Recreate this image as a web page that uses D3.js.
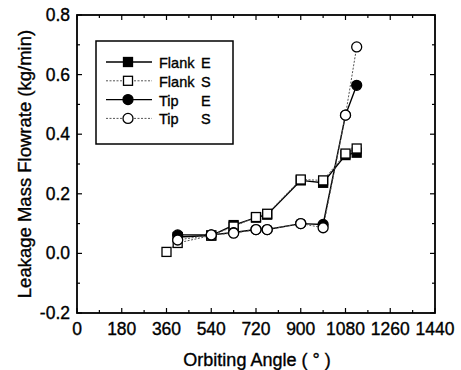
<!DOCTYPE html>
<html>
<head>
<meta charset="utf-8">
<script src="https://cdn.jsdelivr.net/npm/d3@7"></script>
<style>
  body { margin: 0; background: #fff; }
  text { font-family: "Liberation Sans", Arial, sans-serif; fill: #000; stroke: #000; stroke-width: 0.35px; }
</style>
</head>
<body>
<div id="chart"></div>
<script>
// data
let angles = [360, 405, 540, 630, 720, 765, 900, 990, 1080, 1125];
let flankE = [null, 0.055, 0.060, 0.095, 0.120, 0.130, 0.245, 0.237, 0.330, 0.338];
let flankS = [0.005, 0.035, 0.060, 0.090, 0.122, 0.133, 0.248, 0.245, 0.335, 0.352];
let tipE = [null, 0.062, 0.062, 0.070, 0.080, 0.080, 0.100, 0.097, 0.464, 0.564];
let tipS = [null, 0.045, 0.062, 0.068, 0.080, 0.080, 0.100, 0.086, 0.464, 0.693];
let xTicks = [0, 180, 360, 540, 720, 900, 1080, 1260, 1440];
let yTicks = [-0.2, 0.0, 0.2, 0.4, 0.6, 0.8];

let width = 461, height = 370;
let margin = {left: 77, right: 26, top: 15, bottom: 57};

let series = [
    {name: 'Flank', tag: 'E', values: flankE, shape: 'square', filled: true, dash: null},
    {name: 'Flank', tag: 'S', values: flankS, shape: 'square', filled: false, dash: '2,1.5'},
    {name: 'Tip', tag: 'E', values: tipE, shape: 'circle', filled: true, dash: null},
    {name: 'Tip', tag: 'S', values: tipS, shape: 'circle', filled: false, dash: '2,1.5'}
];

let svg = d3.select('#chart').append('svg')
    .attr('width', width)
    .attr('height', height);

let x = d3.scaleLinear().domain([0, 1440]).range([margin.left, width - margin.right]);
let y = d3.scaleLinear().domain([-0.2, 0.8]).range([height - margin.bottom, margin.top]);

let x0 = x.range()[0], x1 = x.range()[1], y0 = y.range()[0], y1 = y.range()[1];

// ticks (all pointing inward)
let g = svg.append('g').attr('stroke', '#000').attr('stroke-width', 1.2);
d3.range(0, 1441, 90).forEach((v) => {
    let len = v % 180 === 0 ? 5 : 3;
    g.append('line').attr('x1', x(v)).attr('x2', x(v)).attr('y1', y0).attr('y2', y0 - len);
    g.append('line').attr('x1', x(v)).attr('x2', x(v)).attr('y1', y1).attr('y2', y1 + len);
});
d3.range(-0.2, 0.81, 0.1).forEach((v) => {
    let len = Math.round(v * 10) % 2 === 0 ? 5 : 3;
    g.append('line').attr('y1', y(v)).attr('y2', y(v)).attr('x1', x0).attr('x2', x0 + len);
    g.append('line').attr('y1', y(v)).attr('y2', y(v)).attr('x1', x1).attr('x2', x1 - len);
});

// frame
svg.append('rect')
    .attr('x', x0).attr('y', y1)
    .attr('width', x1 - x0).attr('height', y0 - y1)
    .attr('fill', 'none').attr('stroke', '#000').attr('stroke-width', 1.8);

// tick labels
svg.append('g').selectAll('text').data(xTicks).enter().append('text')
    .attr('x', (d) => x(d))
    .attr('y', y0 + 22)
    .attr('text-anchor', 'middle')
    .style('font-size', '17.5px')
    .text((d) => d);

svg.append('g').selectAll('text').data(yTicks).enter().append('text')
    .attr('x', x0 - 7)
    .attr('y', (d) => y(d) + 6)
    .attr('text-anchor', 'end')
    .style('font-size', '17.5px')
    .text((d) => d.toFixed(1));

// axis titles
svg.append('text')
    .attr('x', 257).attr('y', 366)
    .attr('text-anchor', 'middle')
    .style('font-size', '18px')
    .text('Orbiting Angle ( ° )');

svg.append('text')
    .attr('transform', 'translate(31,' + (y0 + y1) / 2 + ') rotate(-90)')
    .attr('text-anchor', 'middle')
    .style('font-size', '18.5px')
    .text('Leakage Mass Flowrate (kg/min)');

// lines and markers
let line = d3.line()
    .x((d) => x(d[0]))
    .y((d) => y(d[1]));

function marker(sel, s, cx, cy) {
    if (s.shape === 'square') {
        sel.append('rect')
            .attr('x', cx - 4.5).attr('y', cy - 4.5)
            .attr('width', 9).attr('height', 9)
            .attr('fill', s.filled ? '#000' : '#fff')
            .attr('stroke', '#000').attr('stroke-width', 1.3);
    } else {
        sel.append('circle')
            .attr('cx', cx).attr('cy', cy).attr('r', 5)
            .attr('fill', s.filled ? '#000' : '#fff')
            .attr('stroke', '#000').attr('stroke-width', 1.3);
    }
}

series.forEach((s) => {
    let pts = angles.map((a, i) => [a, s.values[i]]).filter((p) => p[1] != null);
    svg.append('path')
        .attr('d', line(pts))
        .attr('fill', 'none')
        .attr('stroke', s.dash ? '#555' : '#000')
        .attr('stroke-width', s.dash ? 1 : 1.4)
        .attr('stroke-dasharray', s.dash);
});
series.forEach((s) => {
    let mg = svg.append('g');
    angles.forEach((a, i) => {
        if (s.values[i] != null) marker(mg, s, x(a), y(s.values[i]));
    });
});

// legend
let lg = svg.append('g');
lg.append('rect')
    .attr('x', 96).attr('y', 41).attr('width', 137).attr('height', 103)
    .attr('fill', '#fff').attr('stroke', '#000').attr('stroke-width', 1.5);
series.forEach((s, i) => {
    let ly = 62 + i * 18.8;
    lg.append('line')
        .attr('x1', 106).attr('x2', 152).attr('y1', ly).attr('y2', ly)
        .attr('stroke', s.dash ? '#555' : '#000')
        .attr('stroke-width', s.dash ? 1 : 1.4)
        .attr('stroke-dasharray', s.dash);
    marker(lg, s, 128, ly);
    lg.append('text').attr('x', 159).attr('y', ly + 6).style('font-size', '14.5px').text(s.name);
    lg.append('text').attr('x', 201).attr('y', ly + 6).style('font-size', '14.5px').text(s.tag);
});
</script>
</body>
</html>
